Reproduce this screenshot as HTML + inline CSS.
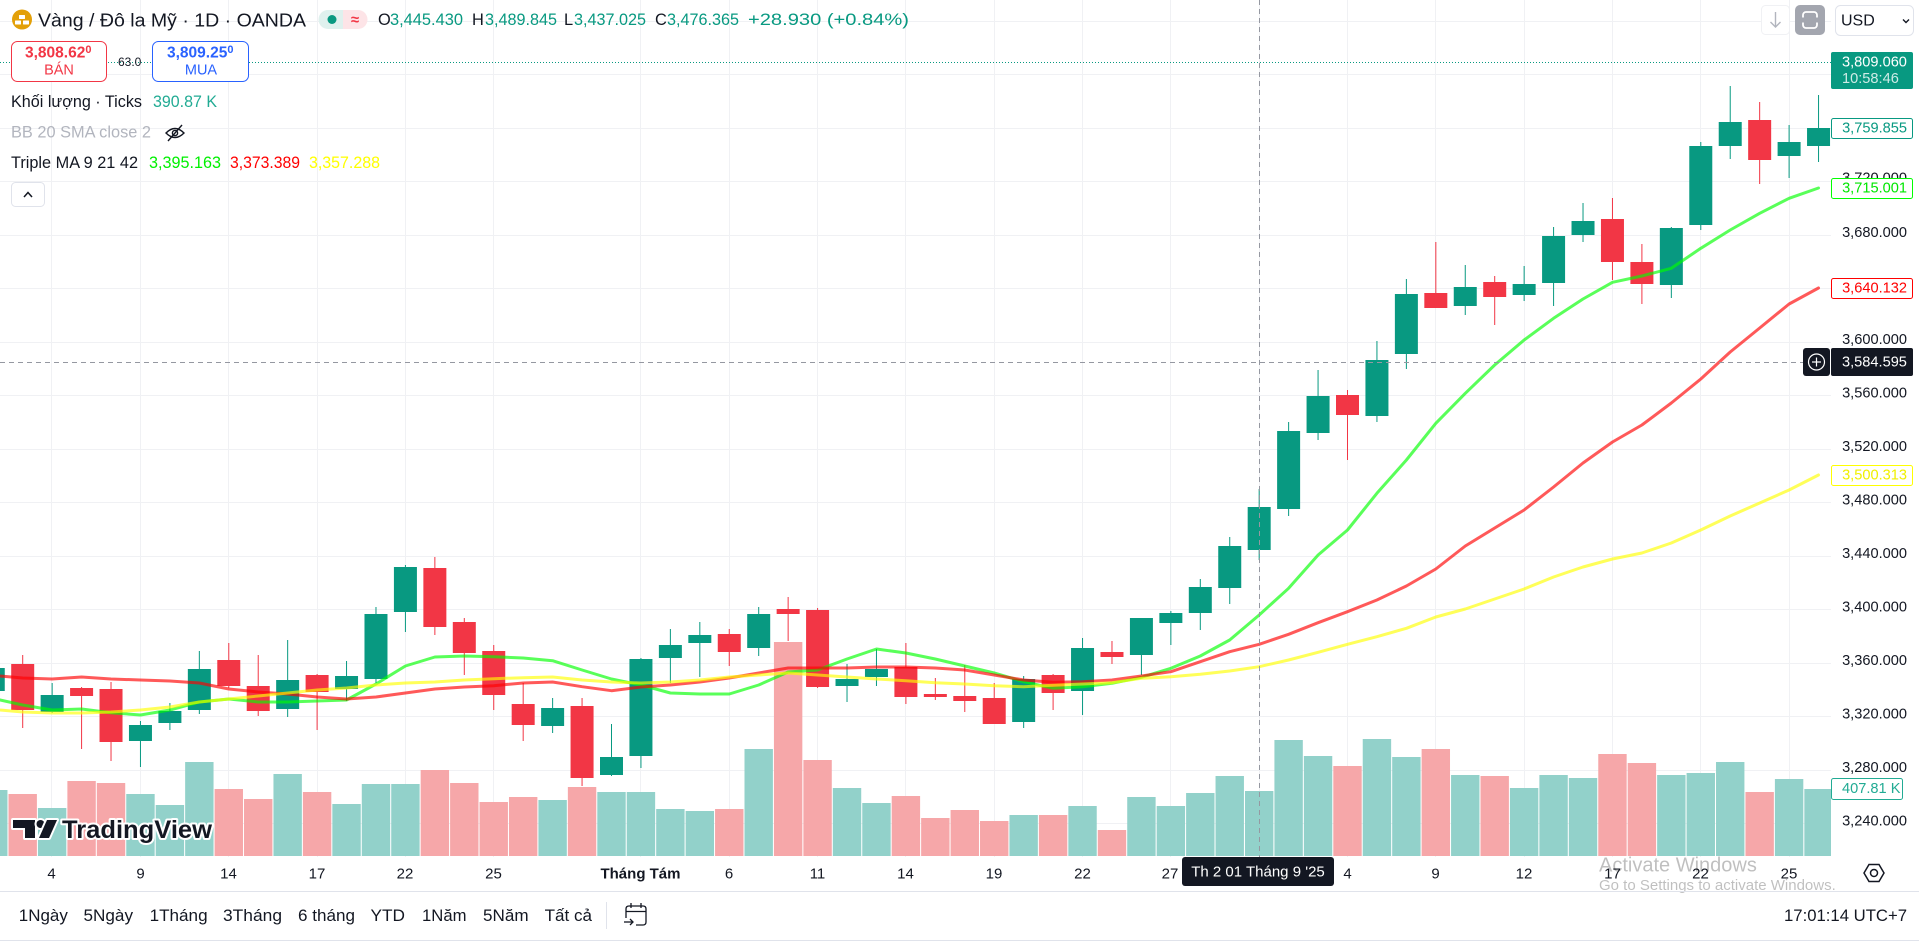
<!DOCTYPE html>
<html><head><meta charset="utf-8"><style>
html,body{margin:0;padding:0;background:#fff;}
svg{display:block;}
text{font-family:"Liberation Sans",sans-serif;fill:#131722;}
</style></head><body>
<svg width="1919" height="941" viewBox="0 0 1919 941" xmlns="http://www.w3.org/2000/svg">
<rect width="1919" height="941" fill="#fff"/>
<defs><clipPath id="c"><rect x="0" y="0" width="1831" height="857"/></clipPath></defs>
<g clip-path="url(#c)">
<g stroke="#f0f1f4" stroke-width="1">
<line x1="0" x2="1831" y1="21.5" y2="21.5"/><line x1="0" x2="1831" y1="74.5" y2="74.5"/><line x1="0" x2="1831" y1="128.5" y2="128.5"/><line x1="0" x2="1831" y1="181.5" y2="181.5"/><line x1="0" x2="1831" y1="235.5" y2="235.5"/><line x1="0" x2="1831" y1="288.5" y2="288.5"/><line x1="0" x2="1831" y1="342.5" y2="342.5"/><line x1="0" x2="1831" y1="395.5" y2="395.5"/><line x1="0" x2="1831" y1="449.5" y2="449.5"/><line x1="0" x2="1831" y1="502.5" y2="502.5"/><line x1="0" x2="1831" y1="556.5" y2="556.5"/><line x1="0" x2="1831" y1="609.5" y2="609.5"/><line x1="0" x2="1831" y1="663.5" y2="663.5"/><line x1="0" x2="1831" y1="716.5" y2="716.5"/><line x1="0" x2="1831" y1="770.5" y2="770.5"/><line x1="0" x2="1831" y1="823.5" y2="823.5"/>
<line y1="0" y2="857" x1="51.5" x2="51.5"/><line y1="0" y2="857" x1="140.5" x2="140.5"/><line y1="0" y2="857" x1="228.5" x2="228.5"/><line y1="0" y2="857" x1="317.5" x2="317.5"/><line y1="0" y2="857" x1="405.5" x2="405.5"/><line y1="0" y2="857" x1="493.5" x2="493.5"/><line y1="0" y2="857" x1="640.5" x2="640.5"/><line y1="0" y2="857" x1="729.5" x2="729.5"/><line y1="0" y2="857" x1="817.5" x2="817.5"/><line y1="0" y2="857" x1="905.5" x2="905.5"/><line y1="0" y2="857" x1="994.5" x2="994.5"/><line y1="0" y2="857" x1="1082.5" x2="1082.5"/><line y1="0" y2="857" x1="1170.5" x2="1170.5"/><line y1="0" y2="857" x1="1259.5" x2="1259.5"/><line y1="0" y2="857" x1="1347.5" x2="1347.5"/><line y1="0" y2="857" x1="1435.5" x2="1435.5"/><line y1="0" y2="857" x1="1524.5" x2="1524.5"/><line y1="0" y2="857" x1="1612.5" x2="1612.5"/><line y1="0" y2="857" x1="1700.5" x2="1700.5"/><line y1="0" y2="857" x1="1789.5" x2="1789.5"/>
</g>
<!-- volume -->
<g fill="#92d1ca">
<rect x="-20.94" y="790" width="28.4" height="66"/><rect x="37.94" y="808" width="28.4" height="48"/><rect x="126.26" y="794" width="28.4" height="62"/><rect x="155.7" y="805" width="28.4" height="51"/><rect x="185.14" y="762" width="28.4" height="94"/><rect x="273.46" y="774" width="28.4" height="82"/><rect x="332.34" y="804" width="28.4" height="52"/><rect x="361.78" y="784" width="28.4" height="72"/><rect x="391.22" y="784" width="28.4" height="72"/><rect x="538.42" y="800" width="28.4" height="56"/><rect x="597.3" y="792" width="28.4" height="64"/><rect x="626.74" y="792" width="28.4" height="64"/><rect x="656.18" y="809" width="28.4" height="47"/><rect x="685.62" y="811" width="28.4" height="45"/><rect x="744.5" y="749" width="28.4" height="107"/><rect x="832.82" y="788" width="28.4" height="68"/><rect x="862.26" y="803" width="28.4" height="53"/><rect x="1009.46" y="815" width="28.4" height="41"/><rect x="1068.34" y="806" width="28.4" height="50"/><rect x="1127.22" y="797" width="28.4" height="59"/><rect x="1156.66" y="806" width="28.4" height="50"/><rect x="1186.1" y="793" width="28.4" height="63"/><rect x="1215.54" y="776" width="28.4" height="80"/><rect x="1244.98" y="791" width="28.4" height="65"/><rect x="1274.42" y="740" width="28.4" height="116"/><rect x="1303.86" y="756" width="28.4" height="100"/><rect x="1362.74" y="739" width="28.4" height="117"/><rect x="1392.18" y="757" width="28.4" height="99"/><rect x="1451.06" y="775" width="28.4" height="81"/><rect x="1509.94" y="788" width="28.4" height="68"/><rect x="1539.38" y="775" width="28.4" height="81"/><rect x="1568.82" y="778" width="28.4" height="78"/><rect x="1657.14" y="775" width="28.4" height="81"/><rect x="1686.58" y="773" width="28.4" height="83"/><rect x="1716.02" y="762" width="28.4" height="94"/><rect x="1774.9" y="779" width="28.4" height="77"/><rect x="1804.34" y="789" width="28.4" height="67"/>
</g>
<g fill="#f6a7a9">
<rect x="8.5" y="794" width="28.4" height="62"/><rect x="67.38" y="781" width="28.4" height="75"/><rect x="96.82" y="783" width="28.4" height="73"/><rect x="214.58" y="789" width="28.4" height="67"/><rect x="244.02" y="799" width="28.4" height="57"/><rect x="302.9" y="792" width="28.4" height="64"/><rect x="420.66" y="770" width="28.4" height="86"/><rect x="450.1" y="783" width="28.4" height="73"/><rect x="479.54" y="802" width="28.4" height="54"/><rect x="508.98" y="797" width="28.4" height="59"/><rect x="567.86" y="787" width="28.4" height="69"/><rect x="715.06" y="809" width="28.4" height="47"/><rect x="773.94" y="642" width="28.4" height="214"/><rect x="803.38" y="760" width="28.4" height="96"/><rect x="891.7" y="796" width="28.4" height="60"/><rect x="921.14" y="818" width="28.4" height="38"/><rect x="950.58" y="810" width="28.4" height="46"/><rect x="980.02" y="821" width="28.4" height="35"/><rect x="1038.9" y="815" width="28.4" height="41"/><rect x="1097.78" y="830" width="28.4" height="26"/><rect x="1333.3" y="766" width="28.4" height="90"/><rect x="1421.62" y="749" width="28.4" height="107"/><rect x="1480.5" y="776" width="28.4" height="80"/><rect x="1598.26" y="754" width="28.4" height="102"/><rect x="1627.7" y="763" width="28.4" height="93"/><rect x="1745.46" y="792" width="28.4" height="64"/>
</g>
<!-- green candles -->
<g fill="#089981">
<rect x="-7.24" y="660" width="1" height="40"/><rect x="-18.24" y="668" width="23" height="23"/>
<rect x="51.64" y="683" width="1" height="30"/><rect x="40.64" y="695" width="23" height="17"/>
<rect x="139.96" y="721" width="1" height="46"/><rect x="128.96" y="725" width="23" height="16"/>
<rect x="169.4" y="703" width="1" height="27"/><rect x="158.4" y="711" width="23" height="12"/>
<rect x="198.84" y="651" width="1" height="63"/><rect x="187.84" y="669" width="23" height="41"/>
<rect x="287.16" y="640" width="1" height="77"/><rect x="276.16" y="680" width="23" height="29"/>
<rect x="346.04" y="661" width="1" height="40"/><rect x="335.04" y="676" width="23" height="13"/>
<rect x="375.48" y="607" width="1" height="76"/><rect x="364.48" y="614" width="23" height="65"/>
<rect x="404.92" y="565" width="1" height="67"/><rect x="393.92" y="567" width="23" height="45"/>
<rect x="552.12" y="698" width="1" height="35"/><rect x="541.12" y="708" width="23" height="18"/>
<rect x="611" y="724" width="1" height="52"/><rect x="600" y="757" width="23" height="18"/>
<rect x="640.44" y="658" width="1" height="110"/><rect x="629.44" y="659" width="23" height="97"/>
<rect x="669.88" y="629" width="1" height="54"/><rect x="658.88" y="645" width="23" height="13"/>
<rect x="699.32" y="622" width="1" height="55"/><rect x="688.32" y="635" width="23" height="8"/>
<rect x="758.2" y="607" width="1" height="49"/><rect x="747.2" y="614" width="23" height="34"/>
<rect x="846.52" y="664" width="1" height="38"/><rect x="835.52" y="679" width="23" height="7"/>
<rect x="875.96" y="649" width="1" height="37"/><rect x="864.96" y="669" width="23" height="8"/>
<rect x="1023.16" y="676" width="1" height="52"/><rect x="1012.16" y="679" width="23" height="43"/>
<rect x="1082.04" y="638" width="1" height="77"/><rect x="1071.04" y="648" width="23" height="43"/>
<rect x="1140.92" y="618" width="1" height="57"/><rect x="1129.92" y="618" width="23" height="37"/>
<rect x="1170.36" y="611" width="1" height="34"/><rect x="1159.36" y="613" width="23" height="10"/>
<rect x="1199.8" y="579" width="1" height="51"/><rect x="1188.8" y="587" width="23" height="26"/>
<rect x="1229.24" y="537" width="1" height="67"/><rect x="1218.24" y="546" width="23" height="42"/>
<rect x="1258.68" y="489" width="1" height="71"/><rect x="1247.68" y="507" width="23" height="43"/>
<rect x="1288.12" y="422" width="1" height="94"/><rect x="1277.12" y="431" width="23" height="78"/>
<rect x="1317.56" y="370" width="1" height="70"/><rect x="1306.56" y="396" width="23" height="37"/>
<rect x="1376.44" y="341" width="1" height="81"/><rect x="1365.44" y="360" width="23" height="56"/>
<rect x="1405.88" y="279" width="1" height="90"/><rect x="1394.88" y="294" width="23" height="60"/>
<rect x="1464.76" y="265" width="1" height="50"/><rect x="1453.76" y="287" width="23" height="19"/>
<rect x="1523.64" y="266" width="1" height="35"/><rect x="1512.64" y="284" width="23" height="11"/>
<rect x="1553.08" y="227" width="1" height="79"/><rect x="1542.08" y="236" width="23" height="47"/>
<rect x="1582.52" y="203" width="1" height="39"/><rect x="1571.52" y="221" width="23" height="14"/>
<rect x="1670.84" y="227" width="1" height="71"/><rect x="1659.84" y="228" width="23" height="57"/>
<rect x="1700.28" y="142" width="1" height="88"/><rect x="1689.28" y="146" width="23" height="79"/>
<rect x="1729.72" y="86" width="1" height="73"/><rect x="1718.72" y="122" width="23" height="24"/>
<rect x="1788.6" y="125" width="1" height="53"/><rect x="1777.6" y="142" width="23" height="14"/>
<rect x="1818.04" y="95" width="1" height="67"/><rect x="1807.04" y="128" width="23" height="18"/>
</g>
<!-- red candles -->
<g fill="#f23645">
<rect x="22.2" y="655" width="1" height="73"/><rect x="11.2" y="664" width="23" height="46"/>
<rect x="81.08" y="687" width="1" height="62"/><rect x="70.08" y="688" width="23" height="8"/>
<rect x="110.52" y="682" width="1" height="79"/><rect x="99.52" y="689" width="23" height="53"/>
<rect x="228.28" y="643" width="1" height="45"/><rect x="217.28" y="660" width="23" height="26"/>
<rect x="257.72" y="655" width="1" height="61"/><rect x="246.72" y="686" width="23" height="25"/>
<rect x="316.6" y="674" width="1" height="56"/><rect x="305.6" y="675" width="23" height="17"/>
<rect x="434.36" y="557" width="1" height="78"/><rect x="423.36" y="568" width="23" height="59"/>
<rect x="463.8" y="618" width="1" height="57"/><rect x="452.8" y="622" width="23" height="31"/>
<rect x="493.24" y="645" width="1" height="65"/><rect x="482.24" y="651" width="23" height="44"/>
<rect x="522.68" y="683" width="1" height="58"/><rect x="511.68" y="704" width="23" height="21"/>
<rect x="581.56" y="698" width="1" height="88"/><rect x="570.56" y="706" width="23" height="72"/>
<rect x="728.76" y="629" width="1" height="37"/><rect x="717.76" y="634" width="23" height="18"/>
<rect x="787.64" y="597" width="1" height="44"/><rect x="776.64" y="609" width="23" height="5"/>
<rect x="817.08" y="608" width="1" height="80"/><rect x="806.08" y="610" width="23" height="77"/>
<rect x="905.4" y="643" width="1" height="61"/><rect x="894.4" y="667" width="23" height="30"/>
<rect x="934.84" y="678" width="1" height="22"/><rect x="923.84" y="694" width="23" height="3"/>
<rect x="964.28" y="665" width="1" height="47"/><rect x="953.28" y="696" width="23" height="5"/>
<rect x="993.72" y="683" width="1" height="41"/><rect x="982.72" y="698" width="23" height="26"/>
<rect x="1052.6" y="674" width="1" height="36"/><rect x="1041.6" y="675" width="23" height="18"/>
<rect x="1111.48" y="641" width="1" height="23"/><rect x="1100.48" y="652" width="23" height="5"/>
<rect x="1347" y="390" width="1" height="70"/><rect x="1336" y="395" width="23" height="20"/>
<rect x="1435.32" y="242" width="1" height="66"/><rect x="1424.32" y="293" width="23" height="15"/>
<rect x="1494.2" y="276" width="1" height="49"/><rect x="1483.2" y="282" width="23" height="15"/>
<rect x="1611.96" y="198" width="1" height="82"/><rect x="1600.96" y="219" width="23" height="43"/>
<rect x="1641.4" y="244" width="1" height="60"/><rect x="1630.4" y="262" width="23" height="22"/>
<rect x="1759.16" y="102" width="1" height="82"/><rect x="1748.16" y="120" width="23" height="40"/>
</g>
<!-- MAs -->
<g fill="none" stroke-width="3" stroke-opacity="0.65" stroke-linejoin="round" stroke-linecap="round">
<polyline stroke="#00ff00" points="-7,697 0,700 22.7,705 52.1,710 81.6,709 111,712.7 140.5,715 169.9,710 199.3,702 228.8,699 258.2,702 287.7,702 317.1,701 346.5,700 376,684 405.4,666 434.9,657 464.3,656 493.7,656.7 523.2,658 552.6,660.7 582.1,670 611.5,679 640.9,685 670.4,693 699.8,694 729.3,694 758.7,685 788.1,672 817.6,670 847,659 876.5,649 905.9,653 935.3,659 964.8,666 994.2,673 1023.7,681.7 1053.1,688.3 1082.5,686.7 1112,683.3 1141.4,677.3 1170.9,668.3 1200.3,656 1229.7,640 1259.2,615 1288.6,588.3 1318.1,555 1347.5,530 1376.9,493.3 1406.4,460 1435.8,423.3 1465.3,393.3 1494.7,365 1524.1,340 1553.6,318.3 1583,299 1612.5,282.3 1641.9,276 1671.3,268.3 1700.8,248.3 1730.2,230 1759.7,213.3 1789.1,198.3 1818.5,188"/>
<polyline stroke="#ff0000" points="-7,675 0,676 22.7,678 52.1,679 81.6,677 111,679 140.5,680 169.9,681 199.3,683 228.8,689 258.2,692 287.7,694 317.1,697 346.5,699 376,697 405.4,693 434.9,689 464.3,687 493.7,685.7 523.2,683 552.6,682 582.1,686.7 611.5,690.7 640.9,687 670.4,685 699.8,682 729.3,678 758.7,673 788.1,668 817.6,668 847,668 876.5,667 905.9,667 935.3,668 964.8,670 994.2,675 1023.7,680 1053.1,682.3 1082.5,681.7 1112,680 1141.4,676 1170.9,671.7 1200.3,661.7 1229.7,651.7 1259.2,644.3 1288.6,634.3 1318.1,622.7 1347.5,611.7 1376.9,600 1406.4,586 1435.8,569 1465.3,546 1494.7,528 1524.1,510 1553.6,487 1583,463 1612.5,442 1641.9,425 1671.3,403 1700.8,379 1730.2,352 1759.7,328 1789.1,304 1818.5,288"/>
<polyline stroke="#ffff00" points="-7,709 0,710 22.7,712 52.1,713 81.6,713 111,712 140.5,710 169.9,707 199.3,702 228.8,699 258.2,696 287.7,693 317.1,690 346.5,688 376,685 405.4,683 434.9,682 464.3,680 493.7,678.7 523.2,677.7 552.6,677 582.1,680 611.5,682 640.9,683 670.4,682 699.8,680 729.3,677 758.7,675 788.1,673 817.6,675 847,677 876.5,679 905.9,680.7 935.3,682.7 964.8,684 994.2,685.7 1023.7,686.7 1053.1,685.3 1082.5,684 1112,682.7 1141.4,678.3 1170.9,676.7 1200.3,674.3 1229.7,671 1259.2,666.7 1288.6,660 1318.1,652.3 1347.5,644.3 1376.9,636.7 1406.4,628.3 1435.8,617 1465.3,609 1494.7,599 1524.1,589 1553.6,577 1583,567 1612.5,559 1641.9,553 1671.3,543 1700.8,530 1730.2,516 1759.7,503 1789.1,490 1818.5,475"/>
</g>
<!-- price line & crosshair -->
<line x1="0" x2="1831" y1="62.5" y2="62.5" stroke="#089981" stroke-width="1" stroke-dasharray="1 2"/>
<line x1="1259.5" x2="1259.5" y1="0" y2="857" stroke="#9598a1" stroke-width="1" stroke-dasharray="5 4"/>
<line x1="0" x2="1803" y1="362.5" y2="362.5" stroke="#9598a1" stroke-width="1" stroke-dasharray="5 4"/>
</g>

<!-- TradingView watermark -->
<g stroke="#fff" stroke-width="4" stroke-linejoin="round" paint-order="stroke" fill="#131722">
<path d="M13,820 H35 V838 H25 V828 H13 Z"/>
<circle cx="40.5" cy="824" r="4"/>
<path d="M39,838 L47,820 H57 L49,838 Z"/>
<text x="62" y="838" font-size="25" font-weight="bold" textLength="150" lengthAdjust="spacingAndGlyphs" style="fill:#131722;stroke:#fff;stroke-width:4px;paint-order:stroke">TradingView</text>
</g>

<!-- header legend -->
<circle cx="22" cy="19.5" r="10" fill="#e3a008"/>
<g fill="#fff"><rect x="15" y="20.5" width="6" height="4" rx="0.5"/><rect x="23" y="20.5" width="6" height="4" rx="0.5"/><rect x="19" y="15" width="6" height="4" rx="0.5"/></g>
<text x="38" y="20" font-size="18.5" dominant-baseline="central" textLength="268" lengthAdjust="spacingAndGlyphs">Vàng / Đô la Mỹ · 1D · OANDA</text>
<path d="M328,10 H343 V29 H328 A9.5,9.5 0 0 1 328,10 Z" fill="#dff1ee"/>
<path d="M343,10 H358 A9.5,9.5 0 0 1 358,29 H343 Z" fill="#fde4e7"/>
<circle cx="332" cy="19.5" r="4.5" fill="#089981"/>
<text x="355" y="20" font-size="15" font-weight="bold" text-anchor="middle" dominant-baseline="central" style="fill:#f23645">≈</text>
<g font-size="16.4">
<text x="378" y="20" dominant-baseline="central">O</text>
<text x="390" y="20" dominant-baseline="central" textLength="73" lengthAdjust="spacingAndGlyphs" style="fill:#089981">3,445.430</text>
<text x="472" y="20" dominant-baseline="central">H</text>
<text x="485" y="20" dominant-baseline="central" textLength="72" lengthAdjust="spacingAndGlyphs" style="fill:#089981">3,489.845</text>
<text x="564" y="20" dominant-baseline="central">L</text>
<text x="574" y="20" dominant-baseline="central" textLength="72" lengthAdjust="spacingAndGlyphs" style="fill:#089981">3,437.025</text>
<text x="655" y="20" dominant-baseline="central">C</text>
<text x="667" y="20" dominant-baseline="central" textLength="72" lengthAdjust="spacingAndGlyphs" style="fill:#089981">3,476.365</text>
<text x="748" y="20" dominant-baseline="central" textLength="161" lengthAdjust="spacingAndGlyphs" style="fill:#089981">+28.930 (+0.84%)</text>
</g>
<!-- sell / buy -->
<rect x="11.5" y="41.5" width="95" height="40" rx="6" fill="#fff" stroke="#f23645"/>
<text x="25" y="53" font-size="15.5" font-weight="bold" dominant-baseline="central" style="fill:#f23645">3,808.62<tspan font-size="11" dy="-3">0</tspan></text>
<text x="59" y="70.5" font-size="14.5" text-anchor="middle" dominant-baseline="central" style="fill:#f23645">BÁN</text>
<text x="118" y="62" font-size="12" dominant-baseline="central">63.0</text>
<rect x="152.5" y="41.5" width="96" height="40" rx="6" fill="#fff" stroke="#2962ff"/>
<text x="167" y="53" font-size="15.5" font-weight="bold" dominant-baseline="central" style="fill:#2962ff">3,809.25<tspan font-size="11" dy="-3">0</tspan></text>
<text x="201" y="70.5" font-size="14.5" text-anchor="middle" dominant-baseline="central" style="fill:#2962ff">MUA</text>
<!-- legend rows -->
<text x="11" y="102" font-size="16.5" dominant-baseline="central" textLength="131" lengthAdjust="spacingAndGlyphs">Khối lượng · Ticks</text>
<text x="153" y="102" font-size="16.5" dominant-baseline="central" textLength="64" lengthAdjust="spacingAndGlyphs" style="fill:#22ab94">390.87 K</text>
<text x="11" y="132.5" font-size="16.5" dominant-baseline="central" textLength="140" lengthAdjust="spacingAndGlyphs" style="fill:#b2b5be">BB 20 SMA close 2</text>
<g fill="none" stroke="#131722" stroke-width="1.4"><path d="M166,133 Q175,124 184,133 Q175,142 166,133 Z"/><circle cx="175" cy="133" r="2.6"/><line x1="168" y1="141" x2="182" y2="125"/></g>
<text x="11" y="163" font-size="16.3" dominant-baseline="central" textLength="127" lengthAdjust="spacingAndGlyphs">Triple MA 9 21 42</text>
<text x="149" y="163" font-size="16.3" dominant-baseline="central" textLength="72" lengthAdjust="spacingAndGlyphs" style="fill:#00f000">3,395.163</text>
<text x="230" y="163" font-size="16.3" dominant-baseline="central" textLength="70" lengthAdjust="spacingAndGlyphs" style="fill:#ff0000">3,373.389</text>
<text x="309" y="163" font-size="16.3" dominant-baseline="central" textLength="71" lengthAdjust="spacingAndGlyphs" style="fill:#ffff00">3,357.288</text>
<rect x="11.5" y="182.5" width="33" height="24" rx="4" fill="#fff" stroke="#e0e3eb"/>
<polyline points="24,197 28,192.5 32,197" fill="none" stroke="#131722" stroke-width="1.5"/>

<!-- top right buttons -->
<rect x="1761.5" y="5.5" width="28" height="29" rx="4" fill="#fff" stroke="#f0f1f4"/>
<g stroke="#b2b5be" stroke-width="1.4" fill="none"><line x1="1775.5" y1="12" x2="1775.5" y2="27"/><polyline points="1770.5,22 1775.5,27 1780.5,22"/></g>
<rect x="1795" y="5" width="30" height="30" rx="5" fill="#a3a6af"/>
<rect x="1803" y="12" width="14" height="16" rx="3" fill="none" stroke="#fff" stroke-width="1.8"/>
<rect x="1801" y="17.5" width="18" height="5" fill="#a3a6af"/>
<rect x="1835.5" y="5.5" width="78" height="30" rx="5" fill="#fff" stroke="#e0e3eb"/>
<text x="1841" y="21" font-size="16" dominant-baseline="central">USD</text>
<polyline points="1903,19.5 1906,22.5 1909,19.5" fill="none" stroke="#131722" stroke-width="1.4"/>

<!-- price axis labels -->
<g font-size="14.6" text-anchor="end">
<text x="1907" y="821.5" dominant-baseline="central">3,240.000</text>
<text x="1907" y="768" dominant-baseline="central">3,280.000</text>
<text x="1907" y="714.5" dominant-baseline="central">3,320.000</text>
<text x="1907" y="661" dominant-baseline="central">3,360.000</text>
<text x="1907" y="607.5" dominant-baseline="central">3,400.000</text>
<text x="1907" y="554" dominant-baseline="central">3,440.000</text>
<text x="1907" y="500.5" dominant-baseline="central">3,480.000</text>
<text x="1907" y="447" dominant-baseline="central">3,520.000</text>
<text x="1907" y="393.5" dominant-baseline="central">3,560.000</text>
<text x="1907" y="340" dominant-baseline="central">3,600.000</text>
<text x="1907" y="233" dominant-baseline="central">3,680.000</text>
<text x="1907" y="178.5" dominant-baseline="central">3,720.000</text>
</g>
<!-- colored labels -->
<rect x="1831" y="52" width="82" height="37" rx="2" fill="#089981"/>
<text x="1842" y="62.5" font-size="14.6" dominant-baseline="central" style="fill:#fff">3,809.060</text>
<text x="1842" y="79" font-size="14.6" dominant-baseline="central" style="fill:#fff;fill-opacity:0.8">10:58:46</text>
<rect x="1831.5" y="118.5" width="81" height="20" rx="2" fill="#fff" stroke="#089981"/>
<text x="1907" y="128.5" font-size="14.6" text-anchor="end" dominant-baseline="central" style="fill:#089981">3,759.855</text>
<rect x="1831.5" y="178.5" width="81" height="20" rx="2" fill="#fff" stroke="#00ff00"/>
<text x="1907" y="188.5" font-size="14.6" text-anchor="end" dominant-baseline="central" style="fill:#00e600">3,715.001</text>
<rect x="1831.5" y="278.5" width="81" height="20" rx="2" fill="#fff" stroke="#ff0000"/>
<text x="1907" y="288.5" font-size="14.6" text-anchor="end" dominant-baseline="central" style="fill:#ff0000">3,640.132</text>
<rect x="1831.5" y="465.5" width="81" height="20" rx="2" fill="#fff" stroke="#ffff00"/>
<text x="1907" y="475.5" font-size="14.6" text-anchor="end" dominant-baseline="central" style="fill:#f0f000">3,500.313</text>
<rect x="1831.5" y="778.5" width="71" height="21" rx="2" fill="#fff" stroke="#22ab94"/>
<text x="1842" y="789" font-size="14.6" dominant-baseline="central" style="fill:#22ab94">407.81 K</text>
<!-- crosshair price label -->
<rect x="1803" y="348" width="27" height="28" rx="3" fill="#131722"/>
<circle cx="1816.5" cy="362" r="8" fill="none" stroke="#fff" stroke-width="1.2"/>
<g stroke="#fff" stroke-width="1.2"><line x1="1812" y1="362" x2="1821" y2="362"/><line x1="1816.5" y1="357.5" x2="1816.5" y2="366.5"/></g>
<rect x="1831" y="348" width="82" height="28" rx="2" fill="#131722"/>
<text x="1842" y="362.5" font-size="14.6" dominant-baseline="central" style="fill:#fff">3,584.595</text>

<!-- time axis -->
<g font-size="15" text-anchor="middle">
<text x="51.5" y="874" dominant-baseline="central">4</text>
<text x="140.5" y="874" dominant-baseline="central">9</text>
<text x="228.5" y="874" dominant-baseline="central">14</text>
<text x="317" y="874" dominant-baseline="central">17</text>
<text x="405" y="874" dominant-baseline="central">22</text>
<text x="493.5" y="874" dominant-baseline="central">25</text>
<text x="640.5" y="874" dominant-baseline="central" font-weight="bold">Tháng Tám</text>
<text x="729" y="874" dominant-baseline="central">6</text>
<text x="817.5" y="874" dominant-baseline="central">11</text>
<text x="905.5" y="874" dominant-baseline="central">14</text>
<text x="994" y="874" dominant-baseline="central">19</text>
<text x="1082.5" y="874" dominant-baseline="central">22</text>
<text x="1170" y="874" dominant-baseline="central">27</text>
<text x="1347.5" y="874" dominant-baseline="central">4</text>
<text x="1435.5" y="874" dominant-baseline="central">9</text>
<text x="1524" y="874" dominant-baseline="central">12</text>
<text x="1612.5" y="874" dominant-baseline="central">17</text>
<text x="1700.5" y="874" dominant-baseline="central">22</text>
<text x="1789" y="874" dominant-baseline="central">25</text>
</g>
<rect x="1182" y="857" width="152" height="29" rx="3" fill="#131722"/>
<text x="1258" y="872" font-size="15" text-anchor="middle" dominant-baseline="central" style="fill:#fff">Th 2 01 Tháng 9 '25</text>
<polygon points="1864,873 1869,864.5 1879,864.5 1884,873 1879,881.5 1869,881.5" fill="none" stroke="#131722" stroke-width="1.5"/>
<circle cx="1874" cy="873" r="3.5" fill="none" stroke="#131722" stroke-width="1.5"/>

<!-- activate windows -->
<text x="1599" y="871.5" font-size="20" style="fill:#000;fill-opacity:0.25">Activate Windows</text>
<text x="1599" y="890" font-size="15" style="fill:#000;fill-opacity:0.25">Go to Settings to activate Windows.</text>

<!-- bottom toolbar -->
<line x1="0" x2="1919" y1="891.5" y2="891.5" stroke="#e0e3eb"/>
<line x1="0" x2="1919" y1="940.5" y2="940.5" stroke="#e0e3eb"/>
<g font-size="17">
<text x="18.8" y="915.5" dominant-baseline="central" textLength="49" lengthAdjust="spacingAndGlyphs">1Ngày</text>
<text x="83.5" y="915.5" dominant-baseline="central" textLength="49.5" lengthAdjust="spacingAndGlyphs">5Ngày</text>
<text x="149.6" y="915.5" dominant-baseline="central" textLength="58" lengthAdjust="spacingAndGlyphs">1Tháng</text>
<text x="223" y="915.5" dominant-baseline="central" textLength="59" lengthAdjust="spacingAndGlyphs">3Tháng</text>
<text x="298" y="915.5" dominant-baseline="central" textLength="57" lengthAdjust="spacingAndGlyphs">6 tháng</text>
<text x="370.5" y="915.5" dominant-baseline="central" textLength="34.5" lengthAdjust="spacingAndGlyphs">YTD</text>
<text x="422" y="915.5" dominant-baseline="central" textLength="44.5" lengthAdjust="spacingAndGlyphs">1Năm</text>
<text x="483" y="915.5" dominant-baseline="central" textLength="45.6" lengthAdjust="spacingAndGlyphs">5Năm</text>
<text x="544.6" y="915.5" dominant-baseline="central" textLength="47.4" lengthAdjust="spacingAndGlyphs">Tất cả</text>
<text x="1907" y="915.5" text-anchor="end" dominant-baseline="central" textLength="123" lengthAdjust="spacingAndGlyphs">17:01:14 UTC+7</text>
</g>
<line x1="606.5" x2="606.5" y1="902" y2="929" stroke="#e0e3eb"/>
<g fill="none" stroke="#131722" stroke-width="1.3">
<path d="M626,918 V909 Q626,906 629,906 H643 Q646,906 646,909 V922 Q646,925 643,925 H636"/>
<line x1="626" y1="911.5" x2="646" y2="911.5"/>
<line x1="631" y1="903" x2="631" y2="908"/><line x1="641" y1="903" x2="641" y2="908"/>
<line x1="624" y1="922" x2="633" y2="922"/><polyline points="630,919 633,922 630,925"/>
</g>
</svg>
</body></html>
